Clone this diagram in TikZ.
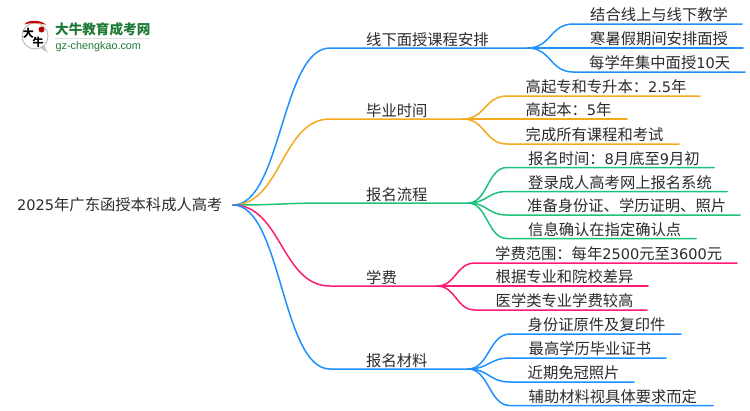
\documentclass[tikz,border=0pt]{standalone}
\usepackage{fontspec}
\setmainfont{Noto Sans CJK SC}
\newfontfamily\latinlogo{Liberation Sans}
\newfontfamily\dgfont[Scale=0.95]{DejaVu Sans}
\newcommand{\dg}[1]{{\dgfont #1}}
\usetikzlibrary{calc}
\definecolor{cblue}{HTML}{1E90FF}
\definecolor{corange}{HTML}{F5A91F}
\definecolor{cgreen}{HTML}{1FC27A}
\definecolor{cpink}{HTML}{FF1A75}
\definecolor{clogo}{HTML}{1F7A35}
\definecolor{ctext}{HTML}{2B2B2B}
\tikzset{
  x=1pt,y=-1pt,
  lab/.style={anchor=base west,inner sep=0pt,font=\fontsize{15.3}{15.3}\selectfont,text=ctext},
  sconn/.style={line width=1.5pt,line cap=round,
    to path={let \p1=(\tikztostart),\p2=(\tikztotarget),\n1={(\x1+\x2)/2} in .. controls (\n1,\y1) and (\n1,\y2) .. (\tikztotarget)}},
}
\begin{document}
\begin{tikzpicture}
\useasboundingbox (0,0) rectangle (750,410);
\fill[white] (0,0) rectangle (750,410);
% logo
\coordinate (bub) at (35,36);
\fill[black!25] (39,47) -- (47.5,52.5) -- (44,45) -- cycle;
\draw[black!25,line width=1pt,fill=white] (bub) circle (13);
\fill[red!80!black] (24.5,24.5) .. controls (27,19.5) and (42,19.5) .. (46,25) .. controls (40,22.5) and (30,22.5) .. (24.5,24.5) -- cycle;
\node[circle,fill=red!70!black,inner sep=0pt,minimum size=6pt] (seal) at (41.5,29.5) {};
\node[inner sep=0pt,font=\fontsize{11}{11}\selectfont\bfseries,text=black] (da) at (28.5,33) {大};
\node[inner sep=0pt,font=\fontsize{11}{11}\selectfont\bfseries,text=black] (niu) at (38,42) {牛};
\node[anchor=base west,inner sep=0pt,font=\fontsize{13.6}{14}\selectfont\bfseries,text=clogo] (brand) at (55,34) {大牛教育成考网};
\fill[black!12] (55,38.2) rectangle (150,39.2);
\node[anchor=base west,inner sep=0pt,font=\latinlogo\fontsize{10.8}{11}\selectfont,text=clogo] (site) at (55.5,49) {gz-chengkao.com};
% root
\node[lab] (root) at (17,210.5) {\dg{2025}年广东函授本科成人高考};
\coordinate (r) at (233,205);
% branch 1
\coordinate (b1s) at (330,48); \coordinate (b1e) at (528,48);
\node[lab] (t1) at (366,45) {线下面授课程安排};
\draw[sconn,cblue] (r) to (b1s) -- (b1e);
\foreach \k/\yy/\xe/\tx/\lbl in {a/24/742/590/结合线上与线下教学,b/48/743/590/寒暑假期间安排面授,c/72/745/589/每学年集中面授\dg{10}天}{
  \coordinate (l\k s) at (573,\yy); \coordinate (l\k e) at (\xe,\yy);
  \node[lab] (t\k) at (\tx,\yy-3.5) {\lbl};
  \draw[sconn,cblue] (b1e) to (l\k s) -- (l\k e);
}
% branch 2
\coordinate (b2s) at (330,119); \coordinate (b2e) at (463,119);
\node[lab] (t2) at (366,116) {毕业时间};
\draw[sconn,corange] (r) to (b2s) -- (b2e);
\foreach \k/\yy/\xe/\tx/\lbl in {d/96/700/525.5/高起专和专升本：\dg{2.5}年,e/119/627/525.5/高起本：\dg{5}年,f/144/679/525.5/完成所有课程和考试}{
  \coordinate (l\k s) at (507,\yy); \coordinate (l\k e) at (\xe,\yy);
  \node[lab] (t\k) at (\tx,\yy-3.5) {\lbl};
  \draw[sconn,corange] (b2e) to (l\k s) -- (l\k e);
}
% branch 3
\coordinate (b3s) at (330,203); \coordinate (b3e) at (468,203);
\node[lab] (t3) at (366,200) {报名流程};
\draw[sconn,cgreen] (r) to (b3s) -- (b3e);
\foreach \k/\yy/\xe/\tx/\lbl in {g/167.5/714/528/报名时间：\dg{8}月底至\dg{9}月初,h/191.5/727/528/登录成人高考网上报名系统,i/215/740/527/准备身份证、学历证明、照片,j/238.5/696/528/信息确认在指定确认点}{
  \coordinate (l\k s) at (507,\yy); \coordinate (l\k e) at (\xe,\yy);
  \node[lab] (t\k) at (\tx,\yy-3.5) {\lbl};
  \draw[sconn,cgreen] (b3e) to (l\k s) -- (l\k e);
}
% branch 4
\coordinate (b4s) at (330,286); \coordinate (b4e) at (437,286);
\node[lab] (t4) at (366,283) {学费};
\draw[sconn,cpink] (r) to (b4s) -- (b4e);
\foreach \k/\yy/\xe/\tx/\lbl in {k/263/737/495/学费范围：每年\dg{2500}元至\dg{3600}元,l/286/648/495.5/根据专业和院校差异,m/310/647/495.5/医学类专业学费较高}{
  \coordinate (l\k s) at (475,\yy); \coordinate (l\k e) at (\xe,\yy);
  \node[lab] (t\k) at (\tx,\yy-3.5) {\lbl};
  \draw[sconn,cpink] (b4e) to (l\k s) -- (l\k e);
}
% branch 5
\coordinate (b5s) at (330,369); \coordinate (b5e) at (468,369);
\node[lab] (t5) at (366,366) {报名材料};
\draw[sconn,cblue] (r) to (b5s) -- (b5e);
\foreach \k/\yy/\xe/\tx/\lbl in {n/334/681/527.5/身份证原件及复印件,o/358/666/528.5/最高学历毕业证书,p/382/634/527.5/近期免冠照片,q/405.5/713/528.5/辅助材料视具体要求而定}{
  \coordinate (l\k s) at (510,\yy); \coordinate (l\k e) at (\xe,\yy);
  \node[lab] (t\k) at (\tx,\yy-3.5) {\lbl};
  \draw[sconn,cblue] (b5e) to (l\k s) -- (l\k e);
}
\end{tikzpicture}
\end{document}
